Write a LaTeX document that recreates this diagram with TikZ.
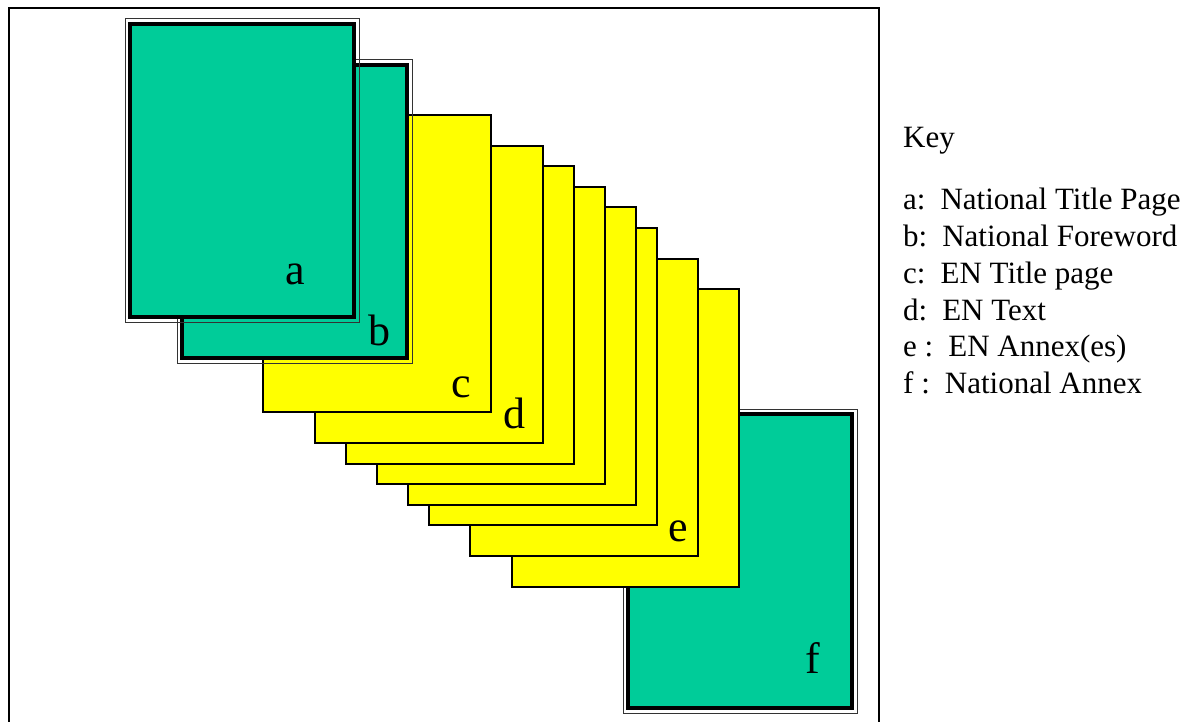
\documentclass[tikz,border=0pt]{standalone}
\usepackage{fontspec}
\setmainfont{Liberation Serif}
\definecolor{pagegreen}{RGB}{0,204,153}
\definecolor{pageyellow}{RGB}{255,255,0}
\tikzset{
  frameline/.style={line width=2pt, black},
  textpage/.style={draw=black, line width=1.5pt, fill=pageyellow},
  natouter/.style={draw=black!80, line width=1pt},
  natinner/.style={draw=black, line width=4pt, fill=pagegreen},
  pagelabel/.style={anchor=base, inner sep=0pt, font=\fontsize{44}{44}\selectfont},
  keytext/.style={anchor=base west, inner sep=0pt, font=\fontsize{31}{31}\selectfont},
}
% a national page: thin outer rule, transparent gap, thick inner rule with green fill
\newcommand{\natpage}[4]{%
  \draw[natouter] (#1,#2) rectangle (#3,#4);
  \draw[natinner] (#1+5,#2+5) rectangle (#3-5,#4-5);
}
\begin{document}
\begin{tikzpicture}[x=1pt,y=-1pt]
\useasboundingbox (0,0) rectangle (1189,722);

% outer frame (open at the bottom)
\draw[frameline] (9,740) -- (9,8) -- (879,8) -- (879,740);

% national annex, behind the stack
\natpage{623}{409}{857}{713}
\node[pagelabel] (lf) at (813,673) {f};

% EN pages, drawn back to front
\draw[textpage] (512,289) rectangle (739,587);
\draw[textpage] (470,259) rectangle (698,556);
\draw[textpage] (429,228) rectangle (657,525);
\draw[textpage] (408,207) rectangle (636,505);
\draw[textpage] (377,187) rectangle (605,484);
\draw[textpage] (346,166) rectangle (574,464);
\draw[textpage] (315,146) rectangle (543,443);
\draw[textpage] (263,115) rectangle (491,412);
\node[pagelabel] (le) at (678,541) {e};
\node[pagelabel] (ld) at (514,428) {d};
\node[pagelabel] (lc) at (461,397) {c};

% national foreword and title page on top
\natpage{177}{60}{412}{363}
\node[pagelabel] (lb) at (379,345) {b};
\natpage{125}{19}{359}{322}
\node[pagelabel] (la) at (295,284) {a};

% key
\node[keytext] (key) at (903,148) {Key};
\node[keytext] (ka) at (903,210) {a:\hspace{15pt}National Title Page};
\node[keytext] (kb) at (903,246.7) {b:\hspace{15pt}National Foreword};
\node[keytext] (kc) at (903,283.3) {c:\hspace{15pt}EN Title page};
\node[keytext] (kd) at (903,320) {d:\hspace{15pt}EN Text};
\node[keytext] (ke) at (903,356.7) {e :\hspace{15pt}EN Annex(es)};
\node[keytext] (kf) at (903,393.3) {f :\hspace{15pt}National Annex};
\end{tikzpicture}
\end{document}
